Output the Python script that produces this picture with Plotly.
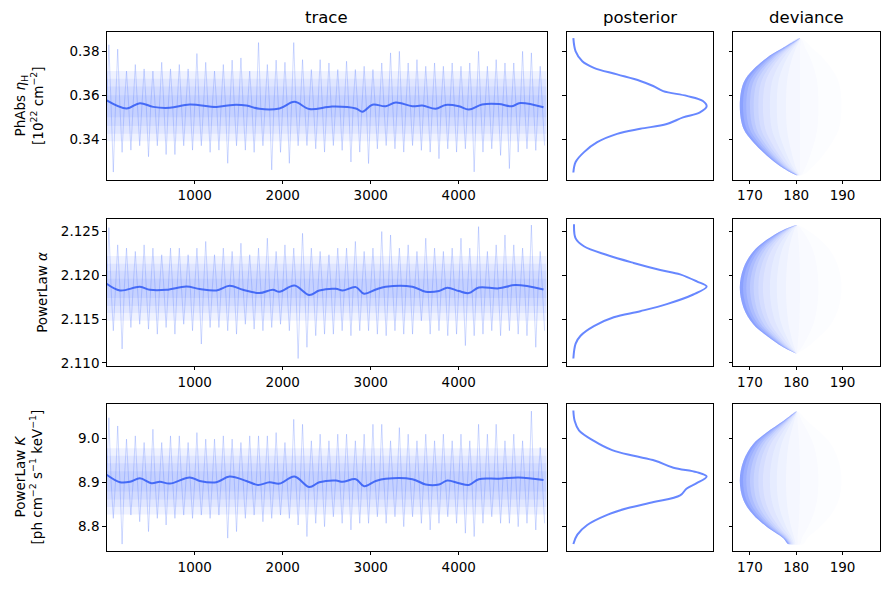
import plotly.graph_objects as go
from plotly.subplots import make_subplots

# ---------------- data ----------------
COL_TITLES = ["trace", "posterior", "deviance"]
ROW_LABELS = [
    "PhAbs <i>η</i><sub>H</sub><br>[10<sup>22</sup> cm<sup>−2</sup>]",
    "PowerLaw <i>α</i>",
    "PowerLaw <i>K</i><br>[ph cm<sup>−2</sup> s<sup>−1</sup> keV<sup>−1</sup>]",
]
N_ITER = 5000
BIN = 100  # spike extremes were read per 100-iteration bin

# y-axis ranges and ticks
Y_RANGES = [[0.3215, 0.3888], [2.10966, 2.12643], [8.745, 9.079]]
Y_TICKS = [[0.34, 0.36, 0.38], [2.110, 2.115, 2.120, 2.125], [8.8, 8.9, 9.0]]
Y_TICKTEXT = [["0.34", "0.36", "0.38"], ["2.110", "2.115", "2.120", "2.125"], ["8.8", "8.9", "9.0"]]
TRACE_XTICKS = [1000, 2000, 3000, 4000]
DEV_XTICKS = [170, 180, 190]
DEV_RANGE = [166.4, 198.1]

# typical (central) value of each chain
CENTER = [0.3552, 2.1185, 8.903]

# running-mean line of each trace
mean_x1 = [0, 226, 377, 528, 717, 943, 1246, 1435, 1586, 1736, 1963, 2133, 2302, 2563, 2831, 2906,
           3019, 3170, 3284, 3473, 3586, 3737, 3850, 4001, 4114, 4265, 4454, 4605, 4699, 4963]
mean_y1 = [0.3577, 0.3540, 0.3564, 0.3547, 0.3543, 0.3558, 0.3547, 0.3556, 0.3553, 0.3538, 0.3540,
           0.3570, 0.3537, 0.3549, 0.3540, 0.3525, 0.3557, 0.3550, 0.3567, 0.3550, 0.3553, 0.3538,
           0.3556, 0.3550, 0.3535, 0.3558, 0.3560, 0.3550, 0.3565, 0.3545]
mean_x2 = [0, 151, 377, 491, 679, 906, 1057, 1246, 1396, 1548, 1736, 1888, 1963, 2133, 2302, 2415,
           2604, 2680, 2831, 2925, 3057, 3170, 3473, 3624, 3775, 3869, 4001, 4114, 4228, 4454, 4643, 4963]
mean_y2 = [2.11902, 2.11826, 2.11868, 2.11834, 2.11834, 2.11871, 2.11842, 2.11826, 2.11879, 2.11834,
           2.11796, 2.11834, 2.11810, 2.11882, 2.11774, 2.11826, 2.11845, 2.11826, 2.11864, 2.11788,
           2.11837, 2.11868, 2.11868, 2.11811, 2.11819, 2.11856, 2.11819, 2.11796, 2.11860, 2.11850,
           2.11887, 2.11837]
mean_x3 = [0, 151, 264, 377, 509, 604, 717, 943, 1057, 1246, 1396, 1586, 1718, 1850, 1963, 2133, 2302,
           2415, 2604, 2680, 2831, 2925, 3057, 3170, 3473, 3624, 3775, 3869, 4001, 4114, 4228, 4454,
           4680, 4963]
mean_y3 = [8.918, 8.901, 8.902, 8.910, 8.899, 8.902, 8.898, 8.912, 8.904, 8.901, 8.914, 8.904, 8.895,
           8.901, 8.898, 8.914, 8.890, 8.901, 8.905, 8.902, 8.908, 8.892, 8.904, 8.909, 8.908, 8.896,
           8.896, 8.905, 8.899, 8.895, 8.908, 8.909, 8.912, 8.906]

# highest / lowest sample seen in each 100-iteration bin
hi1 = [0.383, 0.381, 0.371, 0.374, 0.372, 0.371, 0.375, 0.372, 0.374, 0.372, 0.379, 0.375, 0.371,
       0.374, 0.376, 0.377, 0.371, 0.384, 0.374, 0.376, 0.375, 0.384,
       0.3762, 0.3717, 0.3762, 0.3747, 0.3717, 0.3755, 0.3717, 0.3732, 0.3717, 0.3747, 0.3793,
       0.3800, 0.3747, 0.3762, 0.3732, 0.3747, 0.3732, 0.3747, 0.3732, 0.3747, 0.3800, 0.3732,
       0.3762, 0.3747, 0.3747, 0.3800, 0.3793, 0.3732]
lo1 = [0.325, 0.334, 0.335, 0.337, 0.332, 0.337, 0.333, 0.333, 0.337, 0.335, 0.337, 0.334, 0.335,
       0.329, 0.337, 0.335, 0.334, 0.337, 0.326, 0.334, 0.329, 0.337,
       0.3371, 0.3356, 0.3341, 0.3371, 0.3349, 0.3296, 0.3341, 0.3289, 0.3356, 0.3371, 0.3356,
       0.3341, 0.3371, 0.3349, 0.3341, 0.3311, 0.3356, 0.3341, 0.3356, 0.3251, 0.3341, 0.3356,
       0.3326, 0.3266, 0.3341, 0.3356, 0.3349, 0.3371]
hi2 = [2.12543, 2.12346, 2.12309, 2.12271, 2.12346, 2.12309, 2.12233, 2.12309, 2.12309, 2.12233,
       2.12309, 2.12385, 2.12233, 2.12309, 2.12271, 2.12365, 2.12233, 2.12309, 2.12422, 2.12271,
       2.12346, 2.12309,
       2.12478, 2.12309, 2.12271, 2.12233, 2.12309, 2.12309, 2.12385, 2.12271, 2.12309, 2.12498,
       2.12459, 2.12309, 2.12346, 2.12271, 2.12422, 2.12309, 2.12271, 2.12309, 2.12422, 2.12309,
       2.12554, 2.12271, 2.12346, 2.12459, 2.12346, 2.12309, 2.12572, 2.12271]
lo2 = [2.11367, 2.11159, 2.11404, 2.11441, 2.11385, 2.11328, 2.11404, 2.11328, 2.11441, 2.11367,
       2.11215, 2.11404, 2.11404, 2.11367, 2.11328, 2.11441, 2.11385, 2.11367, 2.11404, 2.11441,
       2.11367, 2.11050,
       2.11178, 2.11310, 2.11328, 2.11328, 2.11367, 2.11310, 2.11367, 2.11367, 2.11328, 2.11310,
       2.11367, 2.11328, 2.11328, 2.11480, 2.11328, 2.11367, 2.11310, 2.11328, 2.11197, 2.11310,
       2.11328, 2.11367, 2.11310, 2.11367, 2.11328, 2.11310, 2.11178, 2.11367]
hi3 = [9.0475, 9.0288, 8.9989, 9.0063, 8.9912, 9.0213, 8.9912, 9.0063, 9.0063, 8.9912, 9.0137,
       8.9989, 8.9989, 9.0063, 8.9989, 8.9912, 9.0063, 9.0063, 9.0063, 9.0137, 8.9912, 9.0438,
       9.0326, 8.9951, 9.0101, 8.9951, 9.0101, 9.0101, 8.9951, 9.0101, 9.0326, 9.0326, 8.9951,
       9.0250, 9.0101, 8.9951, 9.0101, 8.9951, 9.0101, 8.9951, 9.0101, 8.9951, 9.0326, 9.0101,
       9.0326, 8.9951, 9.0101, 8.9951, 9.0625, 8.9800]
lo3 = [8.8191, 8.7607, 8.8265, 8.8115, 8.7890, 8.8191, 8.8040, 8.8191, 8.8265, 8.8191, 8.8265,
       8.8191, 8.8265, 8.7742, 8.7890, 8.8191, 8.8265, 8.8115, 8.8191, 8.8265, 8.8191, 8.8040,
       8.7778, 8.8079, 8.8002, 8.8227, 8.8079, 8.7928, 8.8079, 8.8079, 8.8227, 8.8079, 8.8227,
       8.8002, 8.8227, 8.8079, 8.7928, 8.8079, 8.8227, 8.8079, 8.7854, 8.7778, 8.8079, 8.8227,
       8.8079, 8.8079, 8.8002, 8.8079, 8.7928, 8.8079]

# spread of the bulk of the samples (nested density bands, outer to inner)
bands1 = [[0.3390, 0.3710], [0.3425, 0.3675], [0.3460, 0.3640], [0.3500, 0.3600]]
bands2 = [[2.1148, 2.1222], [2.1157, 2.1213], [2.1165, 2.1205], [2.1174, 2.1196]]
bands3 = [[8.828, 8.978], [8.845, 8.961], [8.862, 8.944], [8.880, 8.926]]

# posterior density curves (peak-normalised)
post_v1 = [0.386, 0.380, 0.3755, 0.3725, 0.3695, 0.3665, 0.3642, 0.3619, 0.3597, 0.3574, 0.3549,
           0.3522, 0.3499, 0.3469, 0.3447, 0.3424, 0.3386, 0.3341, 0.3296, 0.3248]
post_d1 = [0.0, 0.017, 0.067, 0.154, 0.328, 0.502, 0.599, 0.674, 0.851, 0.972, 1.0, 0.95, 0.823,
           0.701, 0.502, 0.328, 0.179, 0.080, 0.017, 0.0]
post_v2 = [2.1258, 2.1242, 2.1233, 2.1223, 2.1214, 2.1206, 2.1201, 2.1193, 2.1187, 2.1178, 2.1167,
           2.1159, 2.1152, 2.1142, 2.1131, 2.1122, 2.1105]
post_d2 = [0.005, 0.017, 0.079, 0.253, 0.452, 0.652, 0.801, 0.926, 1.0, 0.9, 0.701, 0.502, 0.303,
           0.154, 0.054, 0.017, 0.0]
post_v3 = [9.064, 9.040, 9.019, 8.995, 8.974, 8.961, 8.950, 8.934, 8.924, 8.914, 8.899, 8.887, 8.871,
           8.856, 8.842, 8.827, 8.804, 8.782, 8.761]
post_d3 = [0.0, 0.01, 0.042, 0.154, 0.291, 0.453, 0.614, 0.751, 0.925, 1.0, 0.925, 0.851, 0.801,
           0.602, 0.403, 0.254, 0.104, 0.03, 0.0]

# left (minimum-deviance) edge of the deviance clouds
dev_v1 = [0.386, 0.3808, 0.377, 0.3717, 0.3657, 0.3552, 0.3447, 0.3386, 0.3326, 0.3266, 0.3236]
dev_d1 = [180.8, 176.5, 173.6, 170.7, 168.6, 167.8, 168.6, 170.7, 173.6, 177.3, 180.0]
dev_v2 = [2.12572, 2.12516, 2.12403, 2.12271, 2.12083, 2.11856, 2.1163, 2.11441, 2.1131, 2.11178, 2.11102]
dev_d2 = [180.1, 177.2, 173.6, 170.7, 168.6, 167.8, 168.6, 170.7, 173.6, 177.2, 180.1]
dev_v3 = [9.062, 9.040, 9.014, 8.988, 8.950, 8.905, 8.860, 8.827, 8.800, 8.774, 8.761]
dev_d3 = [180.1, 177.2, 173.6, 170.7, 168.6, 167.8, 168.6, 170.7, 173.6, 177.2, 178.2]

MEANS = [(mean_x1, mean_y1), (mean_x2, mean_y2), (mean_x3, mean_y3)]
SPIKES = [(hi1, lo1), (hi2, lo2), (hi3, lo3)]
BANDS = [bands1, bands2, bands3]
POSTS = [(post_d1, post_v1), (post_d2, post_v2), (post_d3, post_v3)]
DEVS = [(dev_d1, dev_v1), (dev_d2, dev_v2), (dev_d3, dev_v3)]

# ---------------- style ----------------
FONT = "DejaVu Sans"
BLUE = "65,105,255"
DEV_BLUE = "40,80,255"
BAND_ALPHA = 0.085
# (cloud width in deviance units at the mode, opacity) for the stacked cloud layers
DEV_LAYERS = [(22, 0.01), (17, 0.015), (13, 0.02), (10, 0.03), (8, 0.035), (6.5, 0.04),
              (5, 0.05), (4, 0.06), (3, 0.08), (2.2, 0.1), (1.4, 0.12), (0.7, 0.15)]
COL_DOM = [[106.7 / 889, 546.7 / 889], [566.7 / 889, 713.3 / 889], [733.3 / 889, 880.0 / 889]]
ROW_DOM = [[1 - 181.3 / 590, 1 - 32.3 / 590], [1 - 369.0 / 590, 1 - 220.7 / 590],
           [1 - 555.7 / 590, 1 - 407.3 / 590]]
ROW_LABEL_X = [29 / 889, 42.5 / 889, 29 / 889]

fig = make_subplots(rows=3, cols=3)

for r in range(3):
    row = r + 1
    # --- trace column ---
    for lo, hi in BANDS[r]:
        fig.add_trace(go.Scatter(x=[0, N_ITER - 1, N_ITER - 1, 0, 0], y=[lo, lo, hi, hi, lo],
                                 mode="lines", fill="toself",
                                 fillcolor=f"rgba({BLUE},{BAND_ALPHA})",
                                 line=dict(width=0), hoverinfo="skip", showlegend=False),
                      row=row, col=1)
    hi, lo = SPIKES[r]
    c = CENTER[r]
    xs, ys = [], []
    for i in range(len(hi)):
        xs += [i * BIN, i * BIN + 25, i * BIN + 50, i * BIN + 75]
        ys += [c, hi[i], c, lo[i]]
    fig.add_trace(go.Scatter(x=xs, y=ys, mode="lines",
                             line=dict(color=f"rgba({BLUE},0.35)", width=0.7),
                             showlegend=False), row=row, col=1)
    mx, my = MEANS[r]
    fig.add_trace(go.Scatter(x=mx, y=my, mode="lines", line_shape="spline",
                             line=dict(color="rgba(55,95,245,0.9)", width=2),
                             showlegend=False), row=row, col=1)
    # --- posterior column ---
    pd_, pv = POSTS[r]
    fig.add_trace(go.Scatter(x=pd_, y=pv, mode="lines", line_shape="spline",
                             line=dict(color=f"rgba({BLUE},0.8)", width=2),
                             showlegend=False), row=row, col=2)
    # --- deviance column ---
    dd, dv = DEVS[r]
    dtop, dmin = max(dd), min(dd)
    for w, a in DEV_LAYERS:
        right = [d + w * (dtop - d) / (dtop - dmin) for d in dd]
        fig.add_trace(go.Scatter(x=dd + right[::-1], y=dv + dv[::-1], mode="lines",
                                 line_shape="spline", fill="toself",
                                 fillcolor=f"rgba({DEV_BLUE},{a})", line=dict(width=0),
                                 hoverinfo="skip", showlegend=False), row=row, col=3)

axis_common = dict(showline=True, mirror=True, linecolor="black", linewidth=1,
                   showgrid=False, zeroline=False, ticks="outside", ticklen=3.5,
                   tickwidth=1, tickcolor="black",
                   tickfont=dict(family=FONT, size=13.5, color="black"))

for r in range(3):
    for c in range(3):
        idx = r * 3 + c + 1
        xa = "xaxis" if idx == 1 else f"xaxis{idx}"
        ya = "yaxis" if idx == 1 else f"yaxis{idx}"
        xcfg = dict(axis_common, domain=COL_DOM[c])
        ycfg = dict(axis_common, domain=ROW_DOM[r], range=Y_RANGES[r],
                    tickvals=Y_TICKS[r], ticktext=Y_TICKTEXT[r],
                    showticklabels=(c == 0))
        if c == 0:
            xcfg.update(range=[0, N_ITER - 1], tickvals=TRACE_XTICKS)
        elif c == 1:
            xcfg.update(range=[-0.05, 1.05], showticklabels=False, ticks="")
        else:
            xcfg.update(range=DEV_RANGE, tickvals=DEV_XTICKS)
        fig.layout[xa].update(xcfg)
        fig.layout[ya].update(ycfg)

annotations = []
for c, t in enumerate(COL_TITLES):
    annotations.append(dict(text=t, x=(COL_DOM[c][0] + COL_DOM[c][1]) / 2, y=1 - 18 / 590,
                            xref="paper", yref="paper", showarrow=False,
                            xanchor="center", yanchor="middle",
                            font=dict(family=FONT, size=16.5, color="black")))
for r, lab in enumerate(ROW_LABELS):
    annotations.append(dict(text=lab, x=ROW_LABEL_X[r], y=(ROW_DOM[r][0] + ROW_DOM[r][1]) / 2,
                            xref="paper", yref="paper", showarrow=False, textangle=-90,
                            xanchor="center", yanchor="middle",
                            font=dict(family=FONT, size=13.5, color="black")))

fig.update_layout(width=889, height=590, margin=dict(l=0, r=0, t=0, b=0),
                  paper_bgcolor="white", plot_bgcolor="white",
                  annotations=annotations, showlegend=False)

fig.write_html("out.html")
